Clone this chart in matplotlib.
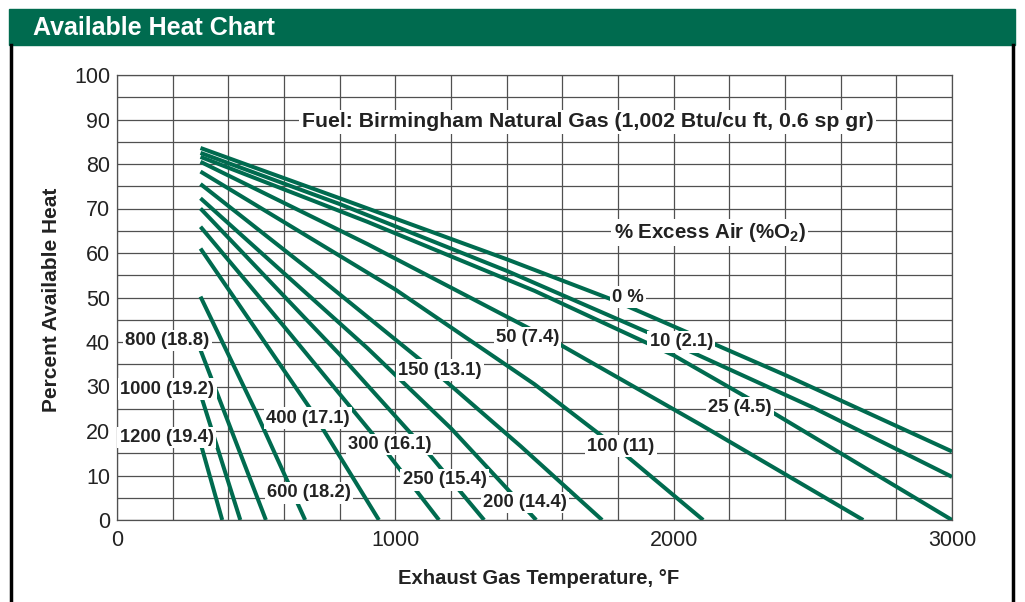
import numpy as np
import matplotlib.pyplot as plt
from matplotlib.patches import Rectangle
from matplotlib.lines import Line2D

plt.rcParams['font.family'] = ['Liberation Sans', 'DejaVu Sans']

GREEN = '#006b4f'
GRID = '#505050'
INK = '#222222'

# % excess air (% O2) of each curve
curve_names = ['0 %', '10 (2.1)', '25 (4.5)', '50 (7.4)', '100 (11)', '150 (13.1)',
               '200 (14.4)', '250 (15.4)', '300 (16.1)', '400 (17.1)', '600 (18.2)',
               '800 (18.8)', '1000 (19.2)', '1200 (19.4)']

# exhaust gas temperature (F) / percent available heat
temps = [
    [300, 800, 1400, 1780, 2400, 3000],
    [300, 800, 1400, 1950, 2500, 3000],
    [300, 900, 1500, 2000, 2320, 3000],
    [300, 900, 1581, 2100, 2681],
    [300, 1000, 1500, 1783, 2106],
    [300, 700, 1135, 1450, 1743],
    [300, 900, 1200, 1506],
    [300, 800, 1100, 1319],
    [300, 600, 916, 1157],
    [300, 700, 941],
    [300, 500, 676],
    [300, 535],
    [300, 443],
    [300, 378],
]
heats = [
    [83.6, 72.3, 58.6, 49.5, 32.6, 15.4],
    [82.5, 71.0, 56.0, 41.0, 25.3, 9.7],
    [81.6, 67.0, 51.5, 37.0, 25.5, 0],
    [80.5, 62.0, 39.8, 21.3, 0],
    [78.3, 51.8, 30.5, 16.9, 0],
    [75.5, 55.8, 33.7, 16.6, 0],
    [72.3, 38.6, 20.6, 0],
    [70.0, 37.2, 16.4, 0],
    [65.9, 43.5, 19.5, 0],
    [61.0, 24.5, 0],
    [50.2, 24.2, 0],
    [38.2, 0],
    [28.3, 0],
    [17.3, 0],
]

# where each curve name sits (data coords)
label_x = [1836, 2027, 2238, 1475, 1810, 1160, 1466, 1177, 979, 686, 690, 181, 181, 178]
label_y = [50.1, 40.0, 25.2, 40.9, 16.6, 33.7, 4.0, 9.0, 16.9, 22.9, 6.1, 40.4, 29.4, 18.6]

fig = plt.figure(figsize=(10.25, 6.02), dpi=100)
ax = fig.add_axes([117 / 1025, 82 / 602, 835 / 1025, 445 / 602])

for t, h in zip(temps, heats):
    ax.plot(t, h, color=GREEN, lw=2.9, solid_capstyle='butt', zorder=3)

box = dict(boxstyle='square,pad=0.12', fc='white', ec='none')
for name, x, y in zip(curve_names, label_x, label_y):
    ax.text(x, y, name, ha='center', va='center', fontsize=13.2, fontweight='bold',
            color=INK, bbox=box, zorder=4)

ax.text(1690, 89.5, 'Fuel: Birmingham Natural Gas (1,002 Btu/cu ft, 0.6 sp gr)',
        ha='center', va='center', fontsize=15.3, fontweight='bold', color=INK,
        bbox=box, zorder=4)
ax.text(2130, 64.6, '% Excess Air (%O$_\\mathregular{2}$)', ha='center', va='center',
        fontsize=14.8, fontweight='bold', color=INK, bbox=box, zorder=4)

ax.set_xlim(0, 3000)
ax.set_ylim(0, 100)
ax.set_xticks([0, 1000, 2000, 3000])
ax.set_xticks(np.arange(0, 3001, 200), minor=True)
ax.set_yticks(np.arange(0, 101, 10))
ax.set_yticks(np.arange(0, 101, 5), minor=True)
ax.grid(which='both', color=GRID, lw=0.9, zorder=1)
ax.set_axisbelow(True)
ax.tick_params(which='both', length=0, labelsize=15.5, colors=INK)
ax.tick_params(axis='x', pad=7)
ax.tick_params(axis='y', pad=5)
for s in ax.spines.values():
    s.set_color(GRID)
    s.set_linewidth(0.9)

ax.set_xlabel('Exhaust Gas Temperature, °F', fontsize=14.6, fontweight='bold', color=INK)
ax.xaxis.set_label_coords(0.505, -0.11)
ax.set_ylabel('Percent Available Heat', fontsize=15, fontweight='bold', color=INK)
ax.yaxis.set_label_coords(-0.067, 0.494)

# header band and side rules
fig.patches.append(Rectangle((9 / 1025, 1 - 45 / 602), 1006 / 1025, 36 / 602,
                             transform=fig.transFigure, color=GREEN, zorder=0))
fig.text(33 / 1025, 1 - 28 / 602, 'Available Heat Chart', color='white', fontsize=18,
         fontweight='bold', va='center', ha='left')
for xp in (10.5, 1013):
    fig.lines.append(Line2D([xp / 1025, xp / 1025], [0, 1 - 45 / 602],
                            transform=fig.transFigure, color='black', lw=2.5))

fig.savefig('out.png', dpi=100)
